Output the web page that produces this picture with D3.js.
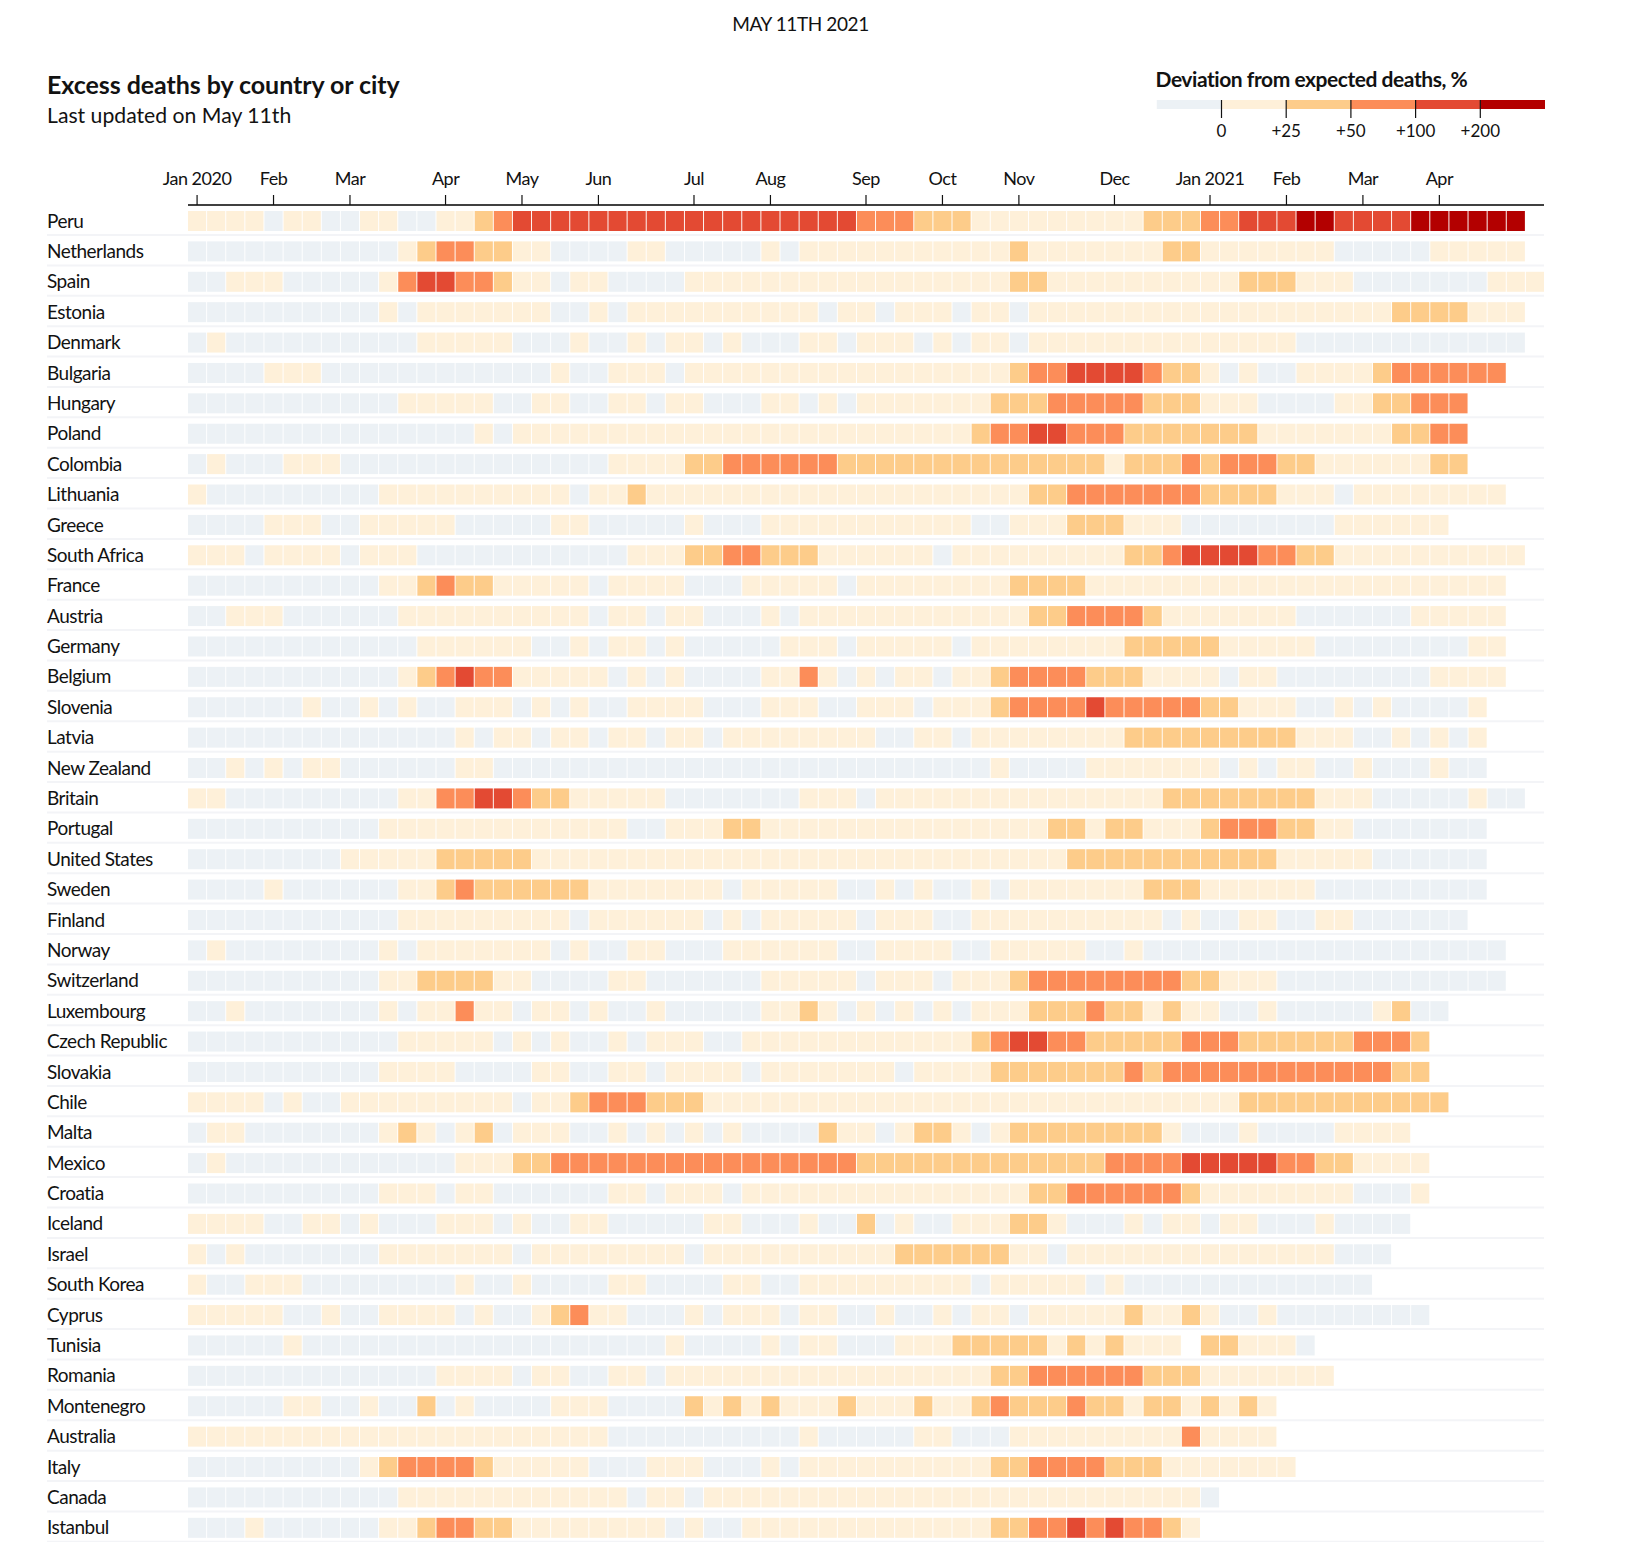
<!DOCTYPE html>
<html>
<head>
<meta charset="utf-8">
<script src="https://cdn.jsdelivr.net/npm/d3@7"></script>
<style>
  body { margin: 0; background: #fff; }
  text { font-family: Lato, sans-serif; fill: #121212; }
</style>
</head>
<body>
<svg id="chart" width="1625" height="1542"></svg>
<script>
// one label per row, top to bottom
const countries = ["Peru","Netherlands","Spain","Estonia","Denmark","Bulgaria","Hungary","Poland",
  "Colombia","Lithuania","Greece","South Africa","France","Austria","Germany","Belgium","Slovenia",
  "Latvia","New Zealand","Britain","Portugal","United States","Sweden","Finland","Norway",
  "Switzerland","Luxembourg","Czech Republic","Slovakia","Chile","Malta","Mexico","Croatia",
  "Iceland","Israel","South Korea","Cyprus","Tunisia","Romania","Montenegro","Australia","Italy",
  "Canada","Istanbul"];

// weekly deviation band, ten weeks per group, "." = no data
// 0 below expected, 1 0-25, 2 25-50, 3 50-100, 4 100-200, 5 over 200
const weeks = [
  "1111011001 1001123444 4444444444 4444433322 2111111111 2223344455 4444555555 .",
  "0000000000 0123322110 0001100000 1011111111 1112111111 1221111111 0000011111 .",
  "0011100000 1344332110 1100001111 1111111111 1112211111 1111122211 1000000011 1",
  "0000000000 1011111110 0101111111 1110110111 0110111111 1111111111 1112222111 .",
  "0100000000 0011111000 1001011010 0011011101 0110111111 1111111100 0000000000 .",
  "0000111000 0000000001 0011101111 1111111111 1112334444 3221010011 112333333. .",
  "0000000000 0111110011 0011011000 1101011111 1122233333 2221110000 1122333... .",
  "0000000000 0000010111 1111111111 1111111111 1233443332 2222221111 1112233... .",
  "0100011100 0000000000 0011112233 3333222222 2222222212 2232333221 1111122... .",
  "1000000000 1111111111 0112111111 1111111111 1111223333 3332222111 011111111. .",
  "0000111001 1111000001 1000001000 1111111111 1001112221 1100000000 111111.... .",
  "1110111101 1100000000 0001112233 2221111110 1111111112 2344443322 1111111111 .",
  "0000000000 1123221111 1011110001 1111011111 1112222111 1111111111 111111111. .",
  "0011100000 0111111111 1011011000 1011111111 1111223333 2111111100 000011111. .",
  "0000000000 0011111100 1011010000 0111011111 0111111112 2222111110 000000011. .",
  "0000000000 0123433111 1101010000 1131010110 1123333222 1111011000 000001111. .",
  "0000001001 0100111010 1001111000 1110011101 1123333433 3332211100 10100001.. .",
  "0000000000 0000101101 1011011011 1111110011 0111111112 2222222211 10010101.. .",
  "0010101100 0000110000 0000000000 0000000000 0010000111 1111010110 01000100.. .",
  "1100000000 0113344322 1111100000 0011101111 1111111111 1222222221 1100000100 .",
  "0000000000 1111111111 1110011122 1111111111 1111122122 1112333221 10000000.. .",
  "0000000011 1112222211 1111111111 1111111111 1111112222 2222222111 11000000.. .",
  "0000100000 0112322222 2111111101 1111001010 0101111111 2221111110 00000000.. .",
  "0000000000 0111111111 0111111010 1111101110 0111111111 1010011001 1000000... .",
  "0100000000 1011111110 1001100011 1111001111 0011111001 0000000000 000000000. .",
  "0000000000 1122221100 0011000000 1111101110 1112333333 3322111000 000000000. .",
  "0010000000 1011311011 0100100000 1121010101 0111222322 1211001000 001200.... .",
  "0000000000 0111110101 0010111001 1111111111 1234433222 2233322222 23332..... .",
  "0000000000 1111000011 0011011110 1111111011 1122222223 2333333333 33322..... .",
  "1111010011 1111111011 2333222111 1111111111 1111111111 1111122222 222222.... .",
  "0110000000 1210120111 0010101010 0002110122 1012222222 2100010000 1111...... .",
  "0100000000 0000111223 3333333333 3333322222 2222222233 3344444332 21111..... .",
  "0000000000 1110110000 0011011101 1111111111 1111223333 3321111111 10001..... .",
  "1111001101 0001110100 1100000110 0010020100 1112210001 0110110001 0000...... .",
  "1010000000 1111111011 1111110111 1111111222 2221101111 1111111111 000....... .",
  "1001110000 0000100100 0011000011 0011111111 1011111010 0000000000 00........ .",
  "1111100100 1111010012 3110001011 1011001001 0110111112 1121001000 00000..... .",
  "0000010000 0000000000 0000010000 1011000111 2222212121 11.221110. .......... .",
  "0000000000 0001111011 0011011111 1111111111 1122333333 2221111111 .......... .",
  "0000011001 0020100001 1100002121 2111211121 1232223221 2212121... .......... .",
  "1111111111 1111111111 1100000000 0010000011 0001111111 1131111... .......... .",
  "0000000001 2333321111 1000111000 1011111111 1122333322 21111111.. .......... .",
  "0000000000 0111111111 1110110111 1111111111 1111111111 1110...... .......... .",
  "0001000000 1123322111 1111101001 1111111111 1122334343 321....... .......... ."
];

// a rough percent for each band, only its band matters for the colour
const bandValues = [-5, 12, 37, 75, 150, 300];
const bandEdges = [0, 25, 50, 100, 200];
const bandColors = ["#ecf1f5", "#fef0d9", "#fdcc8a", "#fc8d59", "#e34a33", "#b30000"];
const edgeLabels = ["0", "+25", "+50", "+100", "+200"];

const monthLabels = ["Jan 2020","Feb","Mar","Apr","May","Jun","Jul","Aug","Sep","Oct","Nov","Dec",
  "Jan 2021","Feb","Mar","Apr"];
const monthWeeks = [0,4,8,13,17,21,26,30,35,39,43,48,53,57,61,65];

const nWeeks = 71;
const left = 188, right = 1544, labelX = 47;
const svg = d3.select("#chart");

const x = d3.scaleBand().domain(d3.range(nWeeks)).range([left, right]).paddingInner(0.05);
const y = d3.scaleBand().domain(countries).range([211, 1537.8]).paddingInner(0.342).paddingOuter(0);
const colour = d3.scaleThreshold().domain(bandEdges).range(bandColors);

// headings
svg.append("text").attr("x", 800.5).attr("y", 31).attr("text-anchor", "middle")
  .style("font-size", "19px").style("letter-spacing", "-0.4px").text("MAY 11TH 2021");
svg.append("text").attr("x", labelX).attr("y", 94)
  .style("font-size", "25px").style("font-weight", 700).style("letter-spacing", "-0.06px")
  .text("Excess deaths by country or city");
svg.append("text").attr("x", labelX).attr("y", 123)
  .style("font-size", "21.2px").text("Last updated on May 11th");

// top axis
const axis = svg.append("g").attr("transform", "translate(0,205)")
  .call(d3.axisTop(x).tickValues(monthWeeks).tickSize(10).tickSizeOuter(0).tickPadding(10).offset(0)
    .tickFormat((d, i) => monthLabels[i]));
axis.select(".domain").attr("stroke", "#000").attr("stroke-width", 1.6)
  .attr("d", "M" + left + ",0H" + right);
axis.selectAll(".tick line").attr("stroke", "#121212").attr("stroke-width", 1.2);
axis.selectAll(".tick text").style("font-size", "18px").style("font-family", "Lato, sans-serif")
  .style("letter-spacing", "-0.5px");

// rows
const rows = svg.append("g").selectAll("g").data(countries).join("g");

rows.append("line")
  .attr("x1", labelX).attr("x2", right)
  .attr("y1", d => y(d) + y.bandwidth() + 4).attr("y2", d => y(d) + y.bandwidth() + 4)
  .attr("stroke", "#f3f4f7").attr("stroke-width", 2);

rows.append("text").attr("x", labelX)
  .attr("y", d => y(d) + y.bandwidth() / 2 + 6.6)
  .style("font-size", "19px").style("letter-spacing", "-0.5px").text(d => d);

rows.each(function (name, r) {
  const values = weeks[r].replace(/ /g, "").split("").map(c => c === "." ? null : bandValues[+c]);
  d3.select(this).selectAll("rect")
    .data(values.map((v, i) => ({ v, i })).filter(d => d.v !== null))
    .join("rect")
    .attr("x", d => x(d.i))
    .attr("y", y(name))
    .attr("width", x.bandwidth())
    .attr("height", y.bandwidth())
    .attr("fill", d => colour(d.v));
});

// legend
const legendX = d3.scaleBand().domain(d3.range(bandColors.length)).range([1156.8, 1545]);
const legend = svg.append("g");
legend.append("text").attr("x", 1155.5).attr("y", 87)
  .style("font-size", "21px").style("font-weight", 700).style("letter-spacing", "-0.45px")
  .text("Deviation from expected deaths, %");
legend.selectAll("rect").data(bandColors).join("rect")
  .attr("x", (d, i) => legendX(i)).attr("y", 100)
  .attr("width", legendX.bandwidth()).attr("height", 9)
  .attr("fill", d => d);
const legendTicks = legend.selectAll("g").data(edgeLabels).join("g")
  .attr("transform", (d, i) => "translate(" + legendX(i + 1) + ",0)");
legendTicks.append("line").attr("y1", 100).attr("y2", 118).attr("stroke", "#121212").attr("stroke-width", 1.2);
legendTicks.append("text").attr("y", 137).attr("text-anchor", "middle").style("font-size", "17px").text(d => d);
</script>
</body>
</html>
